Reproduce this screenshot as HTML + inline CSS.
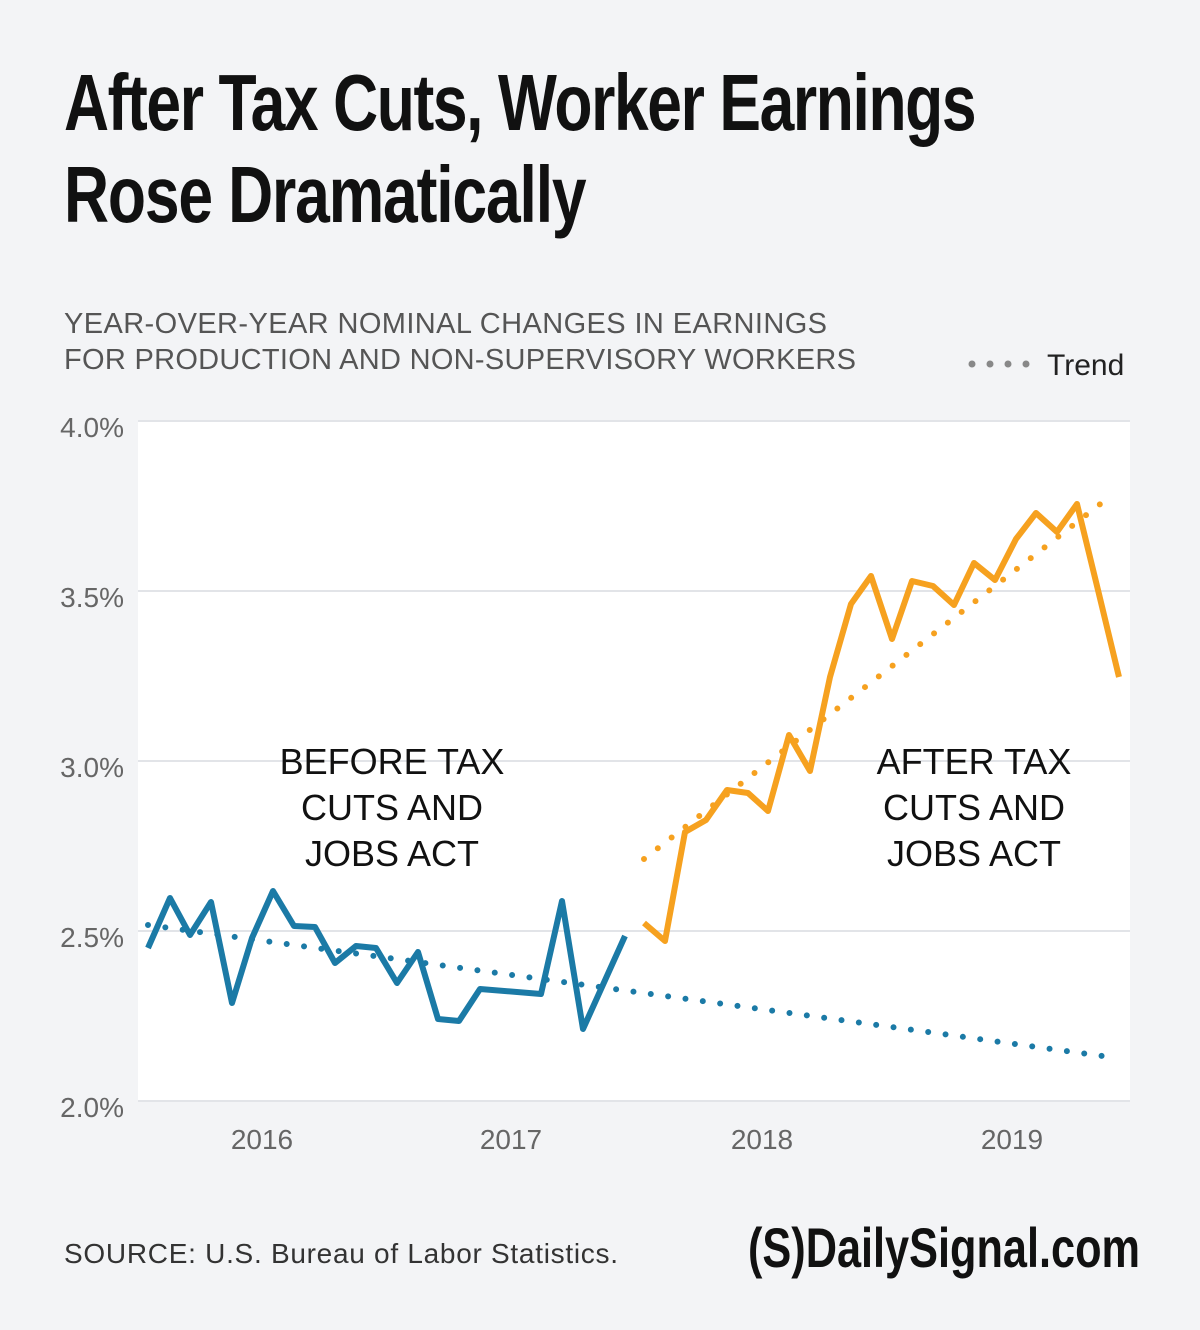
<!DOCTYPE html>
<html><head><meta charset="utf-8"><style>
body{margin:0;background:#f3f4f6;}
svg{display:block}
</style></head><body>
<svg width="1200" height="1330" viewBox="0 0 1200 1330" xmlns="http://www.w3.org/2000/svg">
<rect width="1200" height="1330" fill="#f3f4f6"/>
<g font-family="Liberation Sans Narrow, Liberation Sans, sans-serif" font-weight="bold" font-size="80" fill="#111">
<text x="64" y="130" transform="translate(64 0) scale(0.78 1) translate(-64 0)" textLength="1170">After Tax Cuts, Worker Earnings</text>
<text x="64" y="222" transform="translate(64 0) scale(0.78 1) translate(-64 0)" textLength="670">Rose Dramatically</text>
</g>
<g font-family="Liberation Sans, sans-serif" font-size="29" fill="#555">
<text x="64" y="333" textLength="763">YEAR-OVER-YEAR NOMINAL CHANGES IN EARNINGS</text>
<text x="64" y="369" textLength="792">FOR PRODUCTION AND NON-SUPERVISORY WORKERS</text>
</g>
<line x1="972" y1="364" x2="1030" y2="364" stroke="#888" stroke-width="7" stroke-linecap="round" stroke-dasharray="0 18"/>
<text x="1047" y="375" font-family="Liberation Sans, sans-serif" font-size="30" fill="#222">Trend</text>
<rect x="138" y="421" width="992" height="680" fill="#fff"/>
<g stroke="#e2e4e8" stroke-width="2">
<line x1="138" y1="421" x2="1130" y2="421"/><line x1="138" y1="591" x2="1130" y2="591"/>
<line x1="138" y1="761" x2="1130" y2="761"/><line x1="138" y1="931" x2="1130" y2="931"/>
<line x1="138" y1="1101" x2="1130" y2="1101"/>
</g>
<g font-family="Liberation Sans, sans-serif" font-size="28" fill="#666" text-anchor="end">
<text x="124" y="437">4.0%</text><text x="124" y="607">3.5%</text><text x="124" y="777">3.0%</text>
<text x="124" y="947">2.5%</text><text x="124" y="1117">2.0%</text>
</g>
<g font-family="Liberation Sans, sans-serif" font-size="28" fill="#666" text-anchor="middle">
<text x="262" y="1149">2016</text><text x="511" y="1149">2017</text><text x="762" y="1149">2018</text><text x="1012" y="1149">2019</text>
</g>
<line x1="148" y1="925" x2="1110" y2="1057" stroke="#1b7aa6" stroke-width="6" stroke-linecap="round" stroke-dasharray="0 17.5"/>
<line x1="644" y1="859" x2="1108" y2="498" stroke="#f6a11f" stroke-width="6" stroke-linecap="round" stroke-dasharray="0 17.5"/>
<polyline fill="none" stroke="#1b7aa6" stroke-width="6" stroke-linejoin="round" points="148,948 170,898 190,935 211,902 232,1003 252,938 273,891 294,926 315,927 335,963 356,946 376,948 397,983 418,952 438,1019 459,1021 480,989 541,994 562,901 583,1029 625,936"/>
<polyline fill="none" stroke="#f6a11f" stroke-width="6" stroke-linejoin="round" points="644,923 665,941 685,832 706,820 727,790 748,793 768,811 789,735 810,771 830,677 851,604 871,576 892,639 912,581 933,586 954,605 974,563 995,580 1016,539 1036,513 1057,532 1077,504 1098,590 1119,677"/>
<g font-family="Liberation Sans, sans-serif" font-size="36" fill="#111" text-anchor="middle">
<text x="392" y="774">BEFORE TAX</text><text x="392" y="820">CUTS AND</text><text x="392" y="866">JOBS ACT</text>
<text x="974" y="774">AFTER TAX</text><text x="974" y="820">CUTS AND</text><text x="974" y="866">JOBS ACT</text>
</g>
<text x="64" y="1263" font-family="Liberation Sans, sans-serif" font-size="28" fill="#333" textLength="554">SOURCE: U.S. Bureau of Labor Statistics.</text>
<text x="748" y="1267" font-family="Liberation Sans Narrow, Liberation Sans, sans-serif" font-weight="bold" font-size="56" fill="#111" textLength="392" lengthAdjust="spacingAndGlyphs">(S)DailySignal.com</text>
</svg>
</body></html>
